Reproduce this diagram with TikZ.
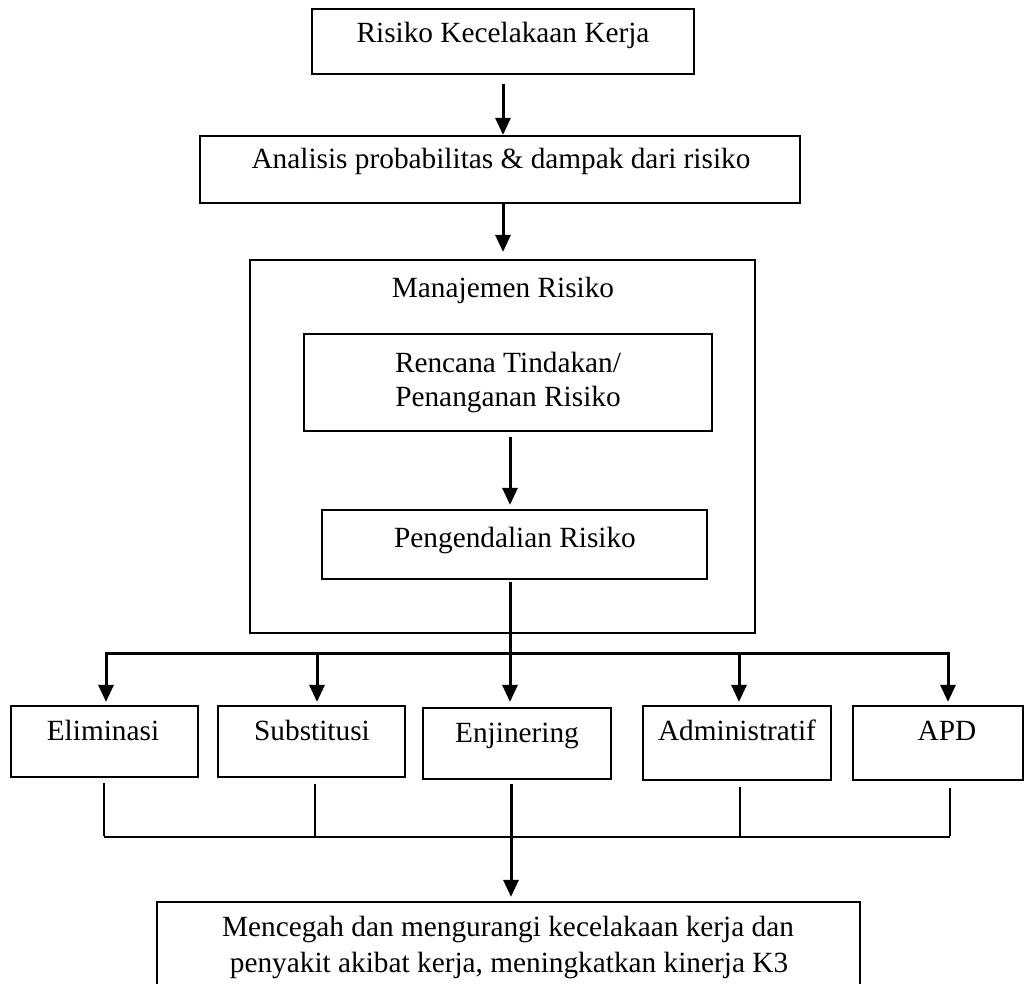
\documentclass[tikz,border=0pt]{standalone}
\usepackage{fontspec}
\setmainfont{Liberation Serif}
\usetikzlibrary{arrows.meta}
\begin{document}
\begin{tikzpicture}[x=1pt,y=-1pt,
  box/.style n args={2}{draw, line width=2.2pt, inner sep=0pt, minimum width=#1, minimum height=#2},
  txt/.style={anchor=base, inner sep=0pt, font=\fontsize{29.3}{35}\selectfont},
  arr/.style={line width=3pt, -{Triangle[length=17pt,width=15pt]}},
  ln/.style={line width=3pt},
  thin/.style={line width=2.2pt}]
\useasboundingbox (0,0) rectangle (1031,984);
\clip (0,0) rectangle (1031,984);
% boxes
\node[box={382}{65}] (b1) at (503,41.5) {};
\node[box={600}{67}] (b2) at (500,169.5) {};
\node[box={505}{373}] (mr) at (502.5,446.5) {};
\node[box={408}{97}] (rt) at (508,382.5) {};
\node[box={385}{69}] (pr) at (514.5,544.5) {};
\node[box={187}{71}] (el) at (104.5,741.5) {};
\node[box={187}{71}] (su) at (311.5,741.5) {};
\node[box={188}{71}] (en) at (517,743.5) {};
\node[box={188}{74}] (ad) at (737,743) {};
\node[box={170}{74}] (ap) at (938,743) {};
\node[box={703}{92}] (fi) at (508.5,948) {};
% texts
\node[txt] (t1) at (503,43) {Risiko Kecelakaan Kerja};
\node[txt] (t2) at (501,169) {Analisis probabilitas \& dampak dari risiko};
\node[txt] (t3) at (503,298) {Manajemen Risiko};
\node[txt] (t4a) at (508,372) {Rencana Tindakan/};
\node[txt] (t4b) at (508,406) {Penanganan Risiko};
\node[txt] (t5) at (515,547) {Pengendalian Risiko};
\node[txt] (t6) at (103,740) {Eliminasi};
\node[txt] (t7) at (312,740) {Substitusi};
\node[txt] (t8) at (517,742) {Enjinering};
\node[txt] (t9) at (737,740) {Administratif};
\node[txt] (t10) at (947,740) {APD};
\node[txt] (t11) at (508,936) {Mencegah dan mengurangi kecelakaan kerja dan};
\node[txt] (t12) at (509,972) {penyakit akibat kerja, meningkatkan kinerja K3};
% branch coordinates
\coordinate (a1) at (106,653);
\coordinate (a2) at (317,653);
\coordinate (a3) at (510,653);
\coordinate (a4) at (739,653);
\coordinate (a5) at (948,653);
\coordinate (c1) at (104,837);
\coordinate (c2) at (315,837);
\coordinate (c3) at (511,837);
\coordinate (c4) at (740,837);
\coordinate (c5) at (950,837);
% connectors
\draw[arr, shorten <=9pt] (b1.south) -- (b1.south |- b2.north);
\draw[arr, shorten >=7pt] (b1.south |- b2.south) -- (b1.south |- mr.north);
\draw[arr, shorten <=5pt, shorten >=4pt] (a3 |- rt.south) -- (a3 |- pr.north);
\draw[arr, shorten <=2pt, shorten >=5pt] (a3 |- pr.south) -- (a3 |- en.north);
\draw[ln] ([xshift=-1.5pt]a1) -- ([xshift=1.5pt]a5);
\draw[arr, shorten >=3pt] (a1) -- (a1 |- el.north);
\draw[arr, shorten >=3pt] (a2) -- (a2 |- su.north);
\draw[arr, shorten >=3pt] (a4) -- (a4 |- ad.north);
\draw[arr, shorten >=3pt] (a5) -- (a5 |- ap.north);
\draw[thin, shorten <=5pt] (c1 |- el.south) -- ([yshift=1.1pt]c1);
\draw[thin, shorten <=6pt] (c2 |- su.south) -- (c2);
\draw[thin, shorten <=6pt] (c4 |- ad.south) -- (c4);
\draw[thin, shorten <=7pt] (c5 |- ap.south) -- ([yshift=1.1pt]c5);
\draw[thin] (c1) -- (c5);
\draw[arr, shorten <=4pt, shorten >=4pt] (c3 |- en.south) -- (c3 |- fi.north);
\end{tikzpicture}
\end{document}
